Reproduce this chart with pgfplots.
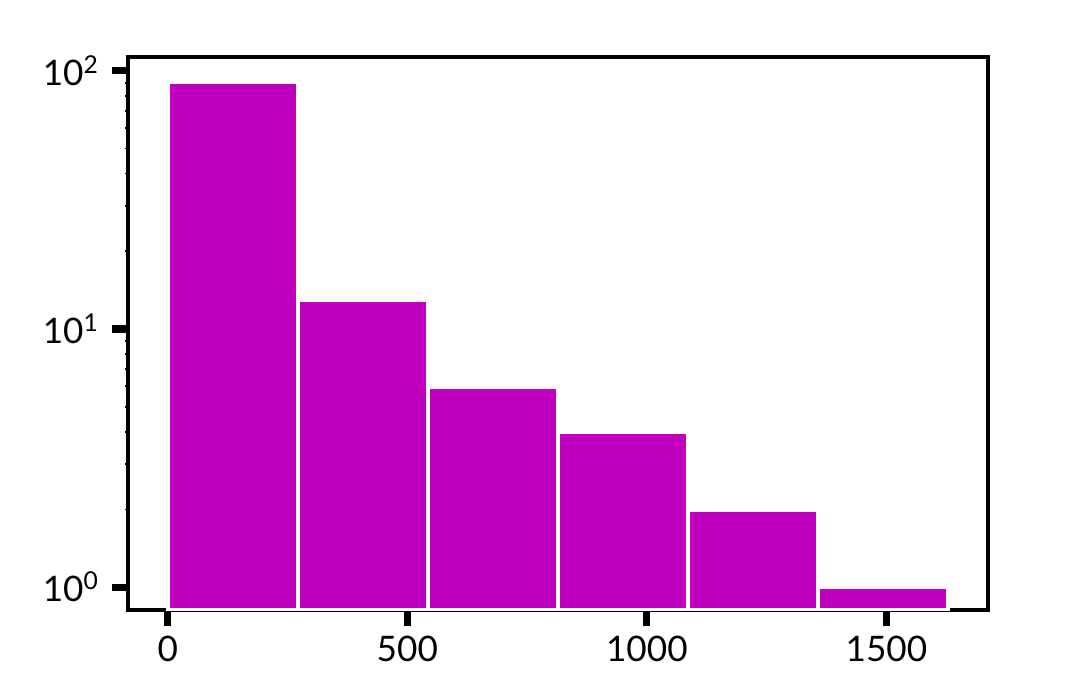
\documentclass[border=0pt]{standalone}
\usepackage{pgfplots}
\pgfplotsset{compat=1.18}
\usepackage{fontspec}
\setmainfont{Lato}
\definecolor{histm}{rgb}{0.75,0,0.75}
\begin{document}
\begin{tikzpicture}
\begin{axis}[
  scale only axis,
  width=10.75cm, height=6.9125cm,
  ymode=log,
  log origin=infty,
  xmin=-83, xmax=1712,
  ymin=0.815, ymax=113.2,
  xtick={0,500,1000,1500},
  ytick={1,10,100},
  yticklabels={10\textsuperscript{0},10\textsuperscript{1},10\textsuperscript{2}},
  axis line style={line width=1.2pt},
  tick align=outside,
  xtick pos=left, ytick pos=left,
  major tick length=0.2cm,
  minor tick length=1pt,
  major tick style={line width=2.5pt, black},
  minor tick style={line width=0.6pt, black},
  tick label style={font=\fontsize{12.5}{15}\selectfont},
  /pgf/number format/assume math mode=true,
  /pgf/number format/1000 sep={},
  yticklabel style={xshift=-1pt},
]
\addplot[ybar interval, fill=histm, draw=white, line width=1.6pt] coordinates {
  (0, 91)
  (271.5, 13)
  (543, 6)
  (814.5, 4)
  (1086, 2)
  (1357.5, 1)
  (1629, 1)
};
\end{axis}
\path (current axis.south west) ++(-1.6cm,-1.1cm) coordinate (bl);
\path (current axis.north east) ++(1.15cm,0.7125cm) coordinate (tr);
\path (bl) rectangle (tr);
\end{tikzpicture}
\end{document}
